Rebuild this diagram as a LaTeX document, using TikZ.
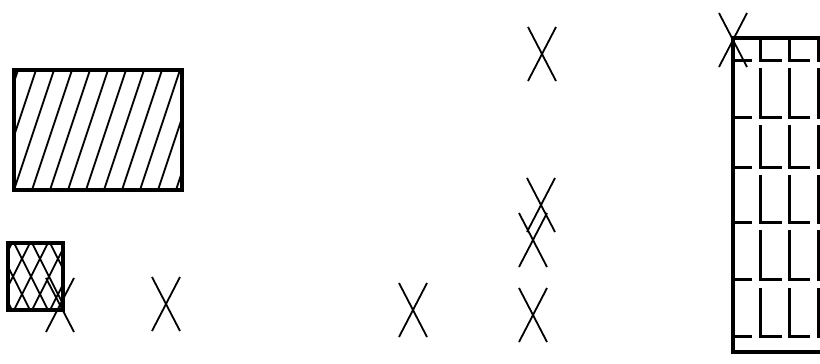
\documentclass[tikz,border=0pt]{standalone}
\begin{document}
\begin{tikzpicture}[x=1pt,y=-1pt,
    frame/.style={line width=3.6pt},
    hatchline/.style={line width=1.8pt},
    gridline/.style={line width=3pt},
    xline/.style={line width=1.8pt}]
    \useasboundingbox (0,0) rectangle (820,364);
    \clip (0,0) rectangle (820,364);
    % large hatched box
    \begin{scope}
        \clip (14,70) rectangle (182,190);
        \foreach \i in {-40,-22,...,200}
            \draw[hatchline] (\i,190) -- ++(40,-120);
    \end{scope}
    \draw[frame] (14,70) rectangle (182,190);
    % small cross-hatched box
    \begin{scope}
        \clip (8,243) rectangle (63,310);
        \foreach \i in {-40,-22,...,80} {
            \draw[hatchline] (\i,310) -- ++(34,-67);
            \draw[hatchline] (\i,243) -- ++(34,67);
        }
    \end{scope}
    \draw[frame] (8,243) rectangle (63,310);
    % grid on the right
    \foreach \yt/\yb in {38/60, 68/117, 125/167, 175/222, 230/279, 288/336} {
        \foreach \xv/\xe in {760/782, 789/810, 818/840}
            \draw[gridline] (\xv,\yt) -- (\xv,\yb) -- (\xe,\yb);
        \draw[gridline] (733,\yb) -- (752,\yb);
    }
    \draw[frame] (840,38) -- (733,38) -- (733,352) -- (840,352);
    % crosses
    \foreach \cx/\cy in {60/305, 166/304, 413/310, 533/315, 533/240, 541/205, 542/54, 733/40}
        \draw[xline] (\cx-14,\cy-27) -- (\cx+14,\cy+27)
                     (\cx+14,\cy-27) -- (\cx-14,\cy+27);
\end{tikzpicture}
\end{document}
